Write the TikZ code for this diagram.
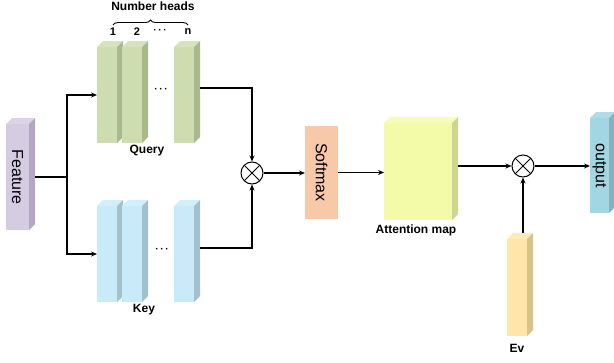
\documentclass[tikz,border=0pt]{standalone}
\usepackage{fontspec}
\setmainfont{Liberation Sans}
\usetikzlibrary{arrows.meta,calc,decorations.pathreplacing}

\definecolor{featF}{HTML}{D6CCE2}
\definecolor{featS}{HTML}{B2A8C2}
\definecolor{featT}{HTML}{DCD3E6}
\definecolor{qF}{HTML}{CEDDB0}
\definecolor{qS}{HTML}{A9B98E}
\definecolor{qT}{HTML}{D6E3BC}
\definecolor{kF}{HTML}{C9EAF8}
\definecolor{kS}{HTML}{A2C1CC}
\definecolor{kT}{HTML}{D2EEFA}
\definecolor{softF}{HTML}{F8C9A9}
\definecolor{attF}{HTML}{F3FAA8}
\definecolor{attS}{HTML}{CFD58E}
\definecolor{attT}{HTML}{F6FBBA}
\definecolor{outF}{HTML}{A2D6E2}
\definecolor{outS}{HTML}{84B3C0}
\definecolor{outT}{HTML}{AEDCE6}
\definecolor{evF}{HTML}{FDE6A8}
\definecolor{evS}{HTML}{D8C38A}
\definecolor{evT}{HTML}{FEEBB8}

\newcommand\hdots{\textperiodcentered\,\textperiodcentered\,\textperiodcentered}

\tikzset{
  slab/.style={inner sep=0pt, outer sep=0pt, minimum width=20pt, minimum height=96pt},
  lbl/.style={font=\bfseries\fontsize{12}{14}\selectfont},
  headnum/.style={font=\bfseries\fontsize{11}{13}\selectfont, inner sep=1pt},
  dots/.style={font=\bfseries\fontsize{10}{12}\selectfont},
  big/.style={font=\fontsize{16}{18}\selectfont},
  mul/.style={circle, draw, line width=1pt, minimum size=22pt, inner sep=0pt,
    path picture={\draw[line width=1pt]
      (path picture bounding box.south east) -- (path picture bounding box.north west)
      (path picture bounding box.south west) -- (path picture bounding box.north east);}},
  flow/.style={-{Stealth[length=6pt,width=5pt]}, line width=1.1pt},
}

% side and top faces of a box node: node, side colour, top colour
\newcommand\depth[3]{%
  \fill[#3] (#1.north west) -- ++(6,-6) -- ($(#1.north east)+(6,-6)$) -- (#1.north east) -- cycle;
  \fill[#2] (#1.north east) -- ($(#1.north east)+(6,-6)$) -- ($(#1.south east)+(6,-6)$) -- (#1.south east) -- cycle;}

\begin{document}
\begin{tikzpicture}[x=1pt, y=-1pt]
  \useasboundingbox (0,0) rectangle (614,362);

  % input
  \node[slab, fill=featF, minimum width=23pt, minimum height=106pt, big] (feat) at (17.5,177) {\rotatebox{-90}{Feature}};
  \depth{feat}{featS}{featT}

  % query heads
  \node[slab, fill=qF] (q1) at (107,95) {};
  \depth{q1}{qS}{qT}
  \node[slab, fill=qF] (q2) at (132,95) {};
  \depth{q2}{qS}{qT}
  \node[slab, fill=qF] (qn) at (184,95) {};
  \depth{qn}{qS}{qT}
  \node[dots] (qdots) at (161,90) {\hdots};
  \node[lbl] (qlbl) at (147,151) {Query};

  % key heads
  \node[slab, fill=kF] (k1) at (107,254) {};
  \depth{k1}{kS}{kT}
  \node[slab, fill=kF] (k2) at (132,254) {};
  \depth{k2}{kS}{kT}
  \node[slab, fill=kF] (kn) at (184,254) {};
  \depth{kn}{kS}{kT}
  \node[dots] (kdots) at (162,250) {\hdots};
  \node[lbl] (klbl) at (144,310) {Key};

  % head numbering
  \node[headnum] (h1) at (113,32) {1};
  \node[headnum] (h2) at (137,32) {2};
  \node[dots] (hd) at (160,31) {\hdots};
  \node[headnum] (hn) at (188,32) {n};
  \draw[decorate, decoration={brace, amplitude=5pt}, line width=0.9pt]
    ([yshift=2pt]h1.north) -- ([yshift=2pt]h1.north -| hn.north);
  \node[lbl] (nheads) at (153,6) {Number heads};

  % attention
  \node[mul] (mul1) at (252,173) {};
  \node[slab, fill=softF, minimum width=33pt, minimum height=93pt, big] (soft) at (321.5,172.5) {\rotatebox{-90}{Softmax}};
  \node[slab, fill=attF, minimum width=68pt, minimum height=97pt] (att) at (418,171.5) {};
  \depth{att}{attS}{attT}
  \node[lbl] (attlbl) at (416,230) {Attention map};

  \node[mul] (mul2) at (523,166) {};
  \node[slab, fill=outF, minimum width=19pt, minimum height=95pt, big] (out) at (599.5,165.5) {\rotatebox{-90}{output}};
  \depth{out}{outS}{outT}
  \node[slab, fill=evF, minimum height=97pt] (ev) at (517,287.5) {};
  \depth{ev}{evS}{evT}
  \node[lbl] (evlbl) at (517,348) {Ev};

  % connectors
  \coordinate (split) at (67,177);
  \draw[line width=1.1pt] ([xshift=6pt]feat.east) -- (split);
  \draw[flow] (split) |- (q1.west);
  \draw[flow] (split) |- (k1.west);
  \draw[flow] ([shift={(6,-7)}]qn.east) -| (mul1.north);
  \draw[flow] ([shift={(6,-6)}]kn.east) -| (mul1.south);
  \draw[flow] (mul1.east) -- (mul1.east -| soft.west);
  \draw[flow] (soft.east) -- (soft.east -| att.west);
  \draw[flow] ([shift={(6,-5.5)}]att.east) -- (mul2.west);
  \draw[flow] (mul2.east) -- (mul2.east -| out.west);
  \draw[flow] ([shift={(6,-6)}]ev.north) -- (mul2.south);
\end{tikzpicture}
\end{document}
